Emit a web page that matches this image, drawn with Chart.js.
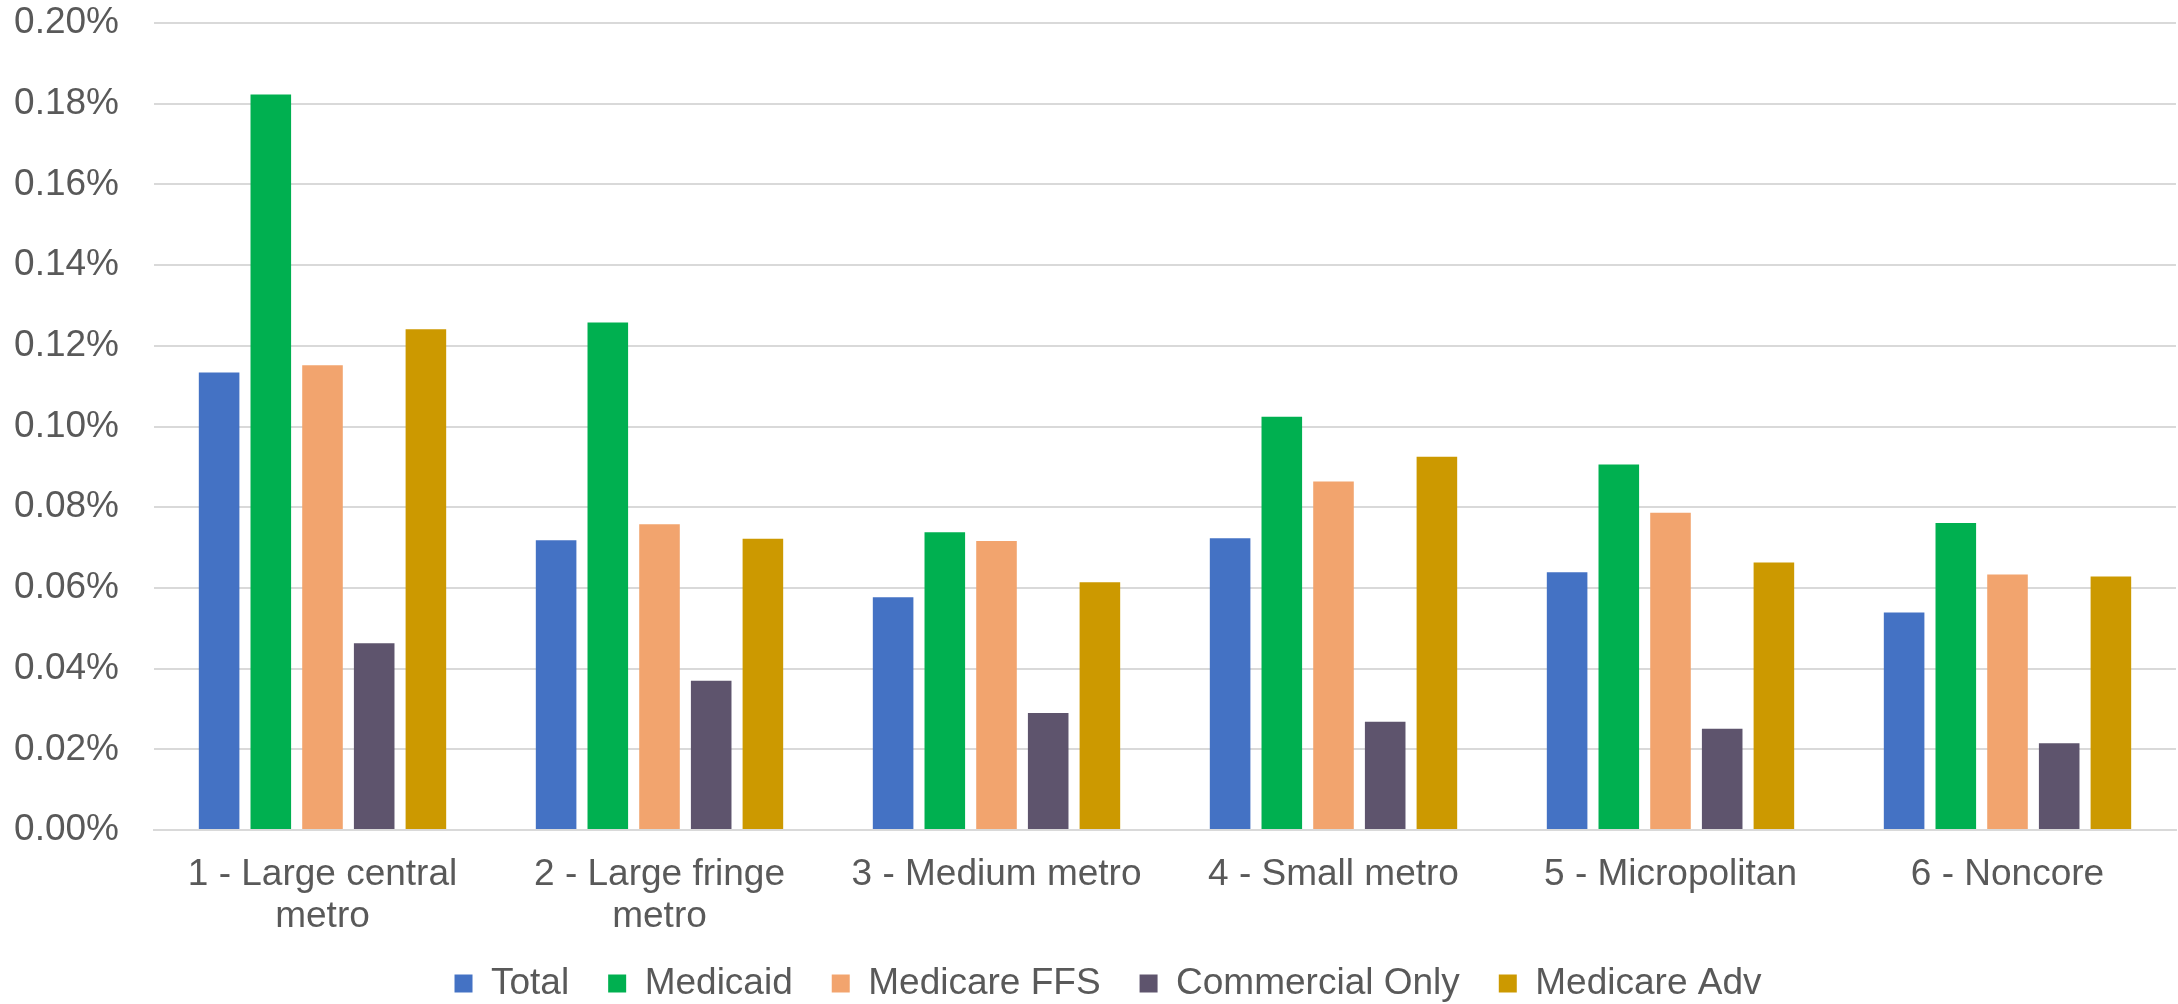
<!DOCTYPE html>
<html>
<head>
<meta charset="utf-8">
<script src="https://cdn.jsdelivr.net/npm/chart.js@4.4.0/dist/chart.umd.min.js"></script>
<style>
  html, body { margin: 0; padding: 0; background: #ffffff; }
  #wrap { width: 2178px; height: 1004px; }
</style>
</head>
<body>
<div id="wrap"><canvas id="c" width="2178" height="1004"></canvas></div>
<script>
const categories = [
  ['1 - Large central', 'metro'],
  ['2 - Large fringe', 'metro'],
  '3 - Medium metro',
  '4 - Small metro',
  '5 - Micropolitan',
  '6 - Noncore'
];
const seriesNames = ['Total', 'Medicaid', 'Medicare FFS', 'Commercial Only', 'Medicare Adv'];
const totalValues       = [0.1134, 0.0718, 0.0577, 0.0723, 0.0639, 0.0539];
const medicaidValues    = [0.1823, 0.1258, 0.0738, 0.1024, 0.0906, 0.0761];
const medicareFfsValues = [0.1152, 0.0758, 0.0716, 0.0864, 0.0786, 0.0633];
const commercialValues  = [0.0463, 0.0370, 0.0290, 0.0268, 0.0251, 0.0215];
const medicareAdvValues = [0.1241, 0.0722, 0.0614, 0.0925, 0.0663, 0.0628];
const yTicks = [0, 0.02, 0.04, 0.06, 0.08, 0.10, 0.12, 0.14, 0.16, 0.18, 0.20];

const colors = ['#4472C4', '#00B050', '#F2A46E', '#5E546D', '#CC9900'];
const allValues = [totalValues, medicaidValues, medicareFfsValues, commercialValues, medicareAdvValues];

const FONT = "'Liberation Sans', Arial, sans-serif";
const TEXT = '#595959';

const datasets = seriesNames.map((name, i) => ({
  label: name,
  data: allValues[i],
  backgroundColor: colors[i],
  borderWidth: 0,
  categoryPercentage: 0.767,
  barPercentage: 0.785
}));

// shift the (centered) legend slightly right, as in the reference
const legendShift = {
  id: 'legendShift',
  afterLayout(chart) {
    if (chart.legend) {
      chart.legend.left += 13;
      chart.legend.right += 13;
    }
  }
};

new Chart(document.getElementById('c'), {
  type: 'bar',
  data: { labels: categories, datasets },
  plugins: [legendShift],
  options: {
    responsive: false,
    animation: false,
    devicePixelRatio: 1,
    layout: { padding: { left: 14, right: 2, top: 23, bottom: 0 } },
    plugins: {
      tooltip: { enabled: false },
      legend: {
        position: 'bottom',
        maxHeight: 78,
        labels: {
          boxWidth: 18,
          boxHeight: 18,
          padding: 39,
          color: TEXT,
          font: { family: FONT, size: 37 }
        }
      }
    },
    scales: {
      x: {
        grid: { display: false, drawTicks: false },
        border: { display: true, color: '#d9d9d9', width: 2 },
        ticks: {
          color: TEXT,
          mirror: true,
          font: { family: FONT, size: 37, lineHeight: 1.125 },
          padding: -66,
          maxRotation: 0,
          autoSkip: false
        },
        afterFit: (scale) => {
          scale.height = 96;
          scale.paddingLeft = 0;
          scale.paddingRight = 0;
        }
      },
      y: {
        min: 0,
        max: 0.20,
        afterBuildTicks: (scale) => { scale.ticks = yTicks.map(v => ({ value: v })); },
        afterFit: (scale) => {
          scale.width = 140;
          scale.paddingTop = 0;
          scale.paddingBottom = 0;
        },
        grid: { color: '#d9d9d9', lineWidth: 2, drawTicks: false },
        border: { display: false },
        ticks: {
          color: TEXT,
          padding: 35,
          font: { family: FONT, size: 37 },
          callback: (v) => Number(v).toFixed(2) + '%'
        }
      }
    }
  }
});
</script>
</body>
</html>
